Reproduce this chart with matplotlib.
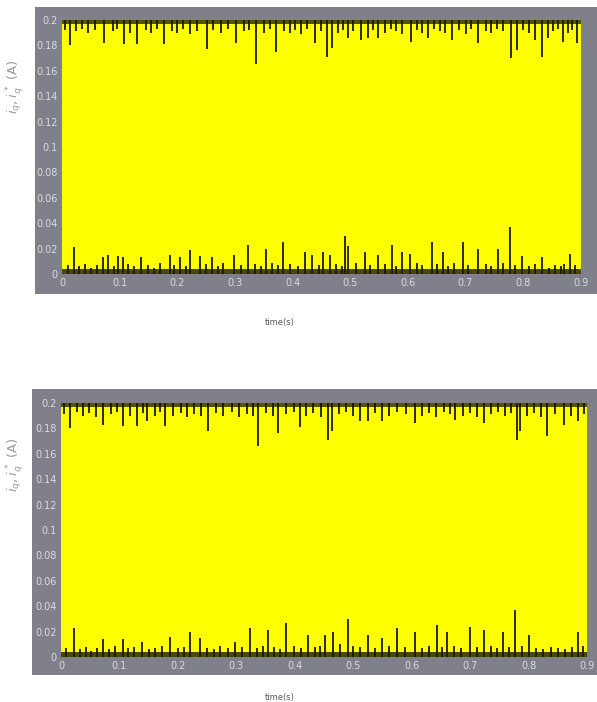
import matplotlib.pyplot as plt
from matplotlib.patches import Rectangle

# current reference i_q* and measured i_q (A), time in s
i_max = 0.2
t_end = 0.9
ripple_top = 0.003   # width of the dense switching ripple along the edges
ripple_bot = 0.004

# panel 1: dips from the top edge
top1_t = [0.005, 0.014, 0.025, 0.035, 0.045, 0.058, 0.073, 0.088, 0.095, 0.108,
          0.118, 0.130, 0.145, 0.155, 0.165, 0.177, 0.190, 0.200, 0.210, 0.222,
          0.235, 0.251, 0.262, 0.275, 0.288, 0.302, 0.315, 0.325, 0.336, 0.350,
          0.360, 0.371, 0.385, 0.395, 0.405, 0.415, 0.425, 0.439, 0.450, 0.459,
          0.468, 0.478, 0.488, 0.496, 0.505, 0.518, 0.531, 0.540, 0.548, 0.560,
          0.570, 0.580, 0.590, 0.605, 0.615, 0.625, 0.635, 0.645, 0.655, 0.665,
          0.676, 0.688, 0.700, 0.710, 0.721, 0.735, 0.745, 0.755, 0.765, 0.779,
          0.789, 0.800, 0.810, 0.820, 0.832, 0.843, 0.852, 0.860, 0.869, 0.878,
          0.885, 0.893]
top1_v = [0.192, 0.180, 0.191, 0.193, 0.190, 0.192, 0.182, 0.191, 0.193, 0.181,
          0.190, 0.181, 0.192, 0.190, 0.193, 0.181, 0.191, 0.190, 0.193, 0.189,
          0.191, 0.177, 0.192, 0.190, 0.193, 0.182, 0.191, 0.192, 0.165, 0.190,
          0.193, 0.175, 0.191, 0.190, 0.192, 0.189, 0.193, 0.182, 0.191, 0.171,
          0.178, 0.190, 0.192, 0.186, 0.191, 0.184, 0.186, 0.192, 0.186, 0.190,
          0.193, 0.191, 0.189, 0.183, 0.192, 0.190, 0.186, 0.193, 0.191, 0.190,
          0.184, 0.192, 0.189, 0.193, 0.182, 0.191, 0.190, 0.193, 0.191, 0.170,
          0.176, 0.192, 0.190, 0.184, 0.171, 0.186, 0.191, 0.193, 0.183, 0.190,
          0.192, 0.182]

# panel 1: spikes from the bottom edge
bot1_t = [0.010, 0.021, 0.030, 0.040, 0.050, 0.060, 0.071, 0.080, 0.090, 0.097,
          0.106, 0.115, 0.125, 0.137, 0.150, 0.160, 0.170, 0.187, 0.195, 0.205,
          0.215, 0.222, 0.239, 0.250, 0.260, 0.270, 0.280, 0.298, 0.310, 0.323,
          0.335, 0.345, 0.354, 0.365, 0.375, 0.383, 0.395, 0.410, 0.421, 0.434,
          0.445, 0.453, 0.465, 0.475, 0.485, 0.491, 0.496, 0.510, 0.525, 0.535,
          0.548, 0.560, 0.572, 0.580, 0.590, 0.603, 0.615, 0.625, 0.642, 0.650,
          0.661, 0.670, 0.680, 0.695, 0.705, 0.721, 0.735, 0.745, 0.756, 0.765,
          0.777, 0.785, 0.798, 0.810, 0.820, 0.832, 0.845, 0.855, 0.865, 0.870,
          0.881, 0.890]
bot1_v = [0.007, 0.021, 0.006, 0.008, 0.005, 0.007, 0.013, 0.015, 0.006, 0.014,
          0.013, 0.008, 0.006, 0.013, 0.007, 0.005, 0.009, 0.015, 0.007, 0.013,
          0.006, 0.019, 0.014, 0.008, 0.013, 0.006, 0.009, 0.015, 0.007, 0.023,
          0.008, 0.006, 0.020, 0.009, 0.007, 0.025, 0.008, 0.006, 0.017, 0.015,
          0.007, 0.017, 0.015, 0.008, 0.006, 0.030, 0.022, 0.009, 0.017, 0.007,
          0.015, 0.008, 0.023, 0.006, 0.017, 0.016, 0.009, 0.007, 0.025, 0.008,
          0.017, 0.006, 0.009, 0.025, 0.007, 0.020, 0.008, 0.006, 0.020, 0.009,
          0.037, 0.007, 0.014, 0.006, 0.008, 0.013, 0.005, 0.007, 0.006, 0.008,
          0.016, 0.007]

# panel 2: dips from the top edge
top2_t = [0.005, 0.015, 0.028, 0.038, 0.048, 0.060, 0.072, 0.085, 0.095, 0.106,
          0.118, 0.130, 0.140, 0.147, 0.160, 0.170, 0.178, 0.192, 0.205, 0.215,
          0.228, 0.240, 0.252, 0.265, 0.278, 0.292, 0.305, 0.318, 0.328, 0.337,
          0.350, 0.362, 0.372, 0.385, 0.398, 0.409, 0.420, 0.432, 0.445, 0.457,
          0.464, 0.475, 0.488, 0.500, 0.512, 0.526, 0.538, 0.550, 0.562, 0.575,
          0.590, 0.606, 0.618, 0.630, 0.642, 0.655, 0.665, 0.675, 0.688, 0.700,
          0.712, 0.723, 0.735, 0.748, 0.760, 0.770, 0.781, 0.786, 0.798, 0.810,
          0.822, 0.832, 0.845, 0.860, 0.872, 0.885, 0.895]
top2_v = [0.191, 0.180, 0.193, 0.190, 0.192, 0.189, 0.183, 0.191, 0.193, 0.182,
          0.190, 0.182, 0.192, 0.186, 0.190, 0.193, 0.182, 0.190, 0.192, 0.189,
          0.191, 0.190, 0.178, 0.192, 0.190, 0.193, 0.189, 0.191, 0.190, 0.166,
          0.192, 0.190, 0.176, 0.191, 0.193, 0.181, 0.190, 0.192, 0.189, 0.171,
          0.178, 0.191, 0.193, 0.190, 0.186, 0.186, 0.192, 0.186, 0.190, 0.193,
          0.191, 0.184, 0.190, 0.192, 0.189, 0.193, 0.191, 0.187, 0.190, 0.192,
          0.189, 0.184, 0.191, 0.193, 0.190, 0.192, 0.171, 0.178, 0.190, 0.192,
          0.189, 0.174, 0.191, 0.183, 0.190, 0.186, 0.191]

# panel 2: spikes from the bottom edge
bot2_t = [0.008, 0.022, 0.032, 0.042, 0.052, 0.062, 0.072, 0.082, 0.092, 0.106,
          0.115, 0.125, 0.138, 0.150, 0.160, 0.172, 0.187, 0.200, 0.210, 0.221,
          0.238, 0.250, 0.262, 0.272, 0.285, 0.298, 0.310, 0.324, 0.335, 0.345,
          0.354, 0.365, 0.375, 0.385, 0.398, 0.410, 0.423, 0.435, 0.444, 0.452,
          0.466, 0.478, 0.491, 0.500, 0.512, 0.526, 0.538, 0.550, 0.562, 0.575,
          0.588, 0.606, 0.618, 0.630, 0.644, 0.652, 0.661, 0.672, 0.684, 0.700,
          0.712, 0.723, 0.735, 0.746, 0.757, 0.767, 0.777, 0.788, 0.800, 0.812,
          0.825, 0.838, 0.850, 0.862, 0.874, 0.884, 0.893]
bot2_v = [0.007, 0.023, 0.006, 0.008, 0.005, 0.007, 0.014, 0.006, 0.009, 0.014,
          0.007, 0.008, 0.012, 0.006, 0.007, 0.009, 0.016, 0.007, 0.008, 0.020,
          0.015, 0.007, 0.006, 0.009, 0.007, 0.012, 0.008, 0.023, 0.007, 0.009,
          0.021, 0.008, 0.006, 0.027, 0.009, 0.007, 0.017, 0.008, 0.009, 0.017,
          0.020, 0.010, 0.030, 0.009, 0.008, 0.017, 0.007, 0.015, 0.009, 0.023,
          0.008, 0.020, 0.007, 0.009, 0.025, 0.008, 0.020, 0.009, 0.007, 0.024,
          0.008, 0.021, 0.009, 0.007, 0.020, 0.008, 0.037, 0.009, 0.017, 0.007,
          0.006, 0.008, 0.007, 0.006, 0.008, 0.020, 0.009]

y_ticks = [0, 0.02, 0.04, 0.06, 0.08, 0.1, 0.12, 0.14, 0.16, 0.18, 0.2]
y_labels = ['0', '0.02', '0.04', '0.06', '0.08', '0.1', '0.12', '0.14', '0.16', '0.18', '0.2']
x_ticks = [0, 0.1, 0.2, 0.3, 0.4, 0.5, 0.6, 0.7, 0.8, 0.9]
x_labels = ['0', '0.1', '0.2', '0.3', '0.4', '0.5', '0.6', '0.7', '0.8', '0.9']

panel_grey = '#80808a'
tick_col = '#dcdcdc'
trace_col = '#1a1a00'

fig = plt.figure(figsize=(5.97, 7.02), dpi=100)

# grey MATLAB-style frames behind each axes
fig.patches.append(Rectangle((0.0586, 0.581), 0.9414, 0.409, transform=fig.transFigure,
                             facecolor=panel_grey, edgecolor='none', zorder=-5))
fig.patches.append(Rectangle((0.0536, 0.0385), 0.9464, 0.4075, transform=fig.transFigure,
                             facecolor=panel_grey, edgecolor='none', zorder=-5))

ax1 = fig.add_axes([0.1039, 0.6097, 0.869, 0.3618])
ax2 = fig.add_axes([0.1022, 0.0641, 0.881, 0.3618])

panels = [(ax1, top1_t, top1_v, bot1_t, bot1_v),
          (ax2, top2_t, top2_v, bot2_t, bot2_v)]

for ax, tt, tv, bt, bv in panels:
    ax.set_facecolor('none')
    ax.fill_between([0, t_end], 0, i_max, color='#ffff00', lw=0, zorder=1)
    # dense ripple hugging the two switching levels
    ax.fill_between([0, t_end], i_max - ripple_top, i_max, color=trace_col, alpha=0.75,
                    lw=0, zorder=2)
    ax.fill_between([0, t_end], 0, ripple_bot, color=trace_col, alpha=0.8, lw=0, zorder=2)
    ax.vlines(tt, tv, i_max, color=trace_col, lw=1.3, zorder=3)
    ax.vlines(bt, 0, bv, color=trace_col, lw=1.3, zorder=3)
    ax.set_xlim(0, t_end)
    ax.set_ylim(0, i_max)
    ax.set_xticks(x_ticks)
    ax.set_xticklabels(x_labels)
    ax.set_yticks(y_ticks)
    ax.set_yticklabels(y_labels)
    ax.tick_params(length=0, labelsize=7, colors=tick_col, pad=3)
    for s in ax.spines.values():
        s.set_visible(False)

# axis labels
fig.text(0.025, 0.876, '$i_q, i_q^*$ (A)', rotation=90, ha='center', va='center',
         fontsize=9.5, color='#9a9a9a')
fig.text(0.025, 0.338, '$i_q, i_q^*$ (A)', rotation=90, ha='center', va='center',
         fontsize=9.5, color='#9a9a9a')
fig.text(0.468, 0.541, 'time(s)', ha='center', va='center', fontsize=6, color='#555555')
fig.text(0.468, 0.007, 'time(s)', ha='center', va='center', fontsize=6, color='#555555')

fig.savefig('out.png', dpi=100)
